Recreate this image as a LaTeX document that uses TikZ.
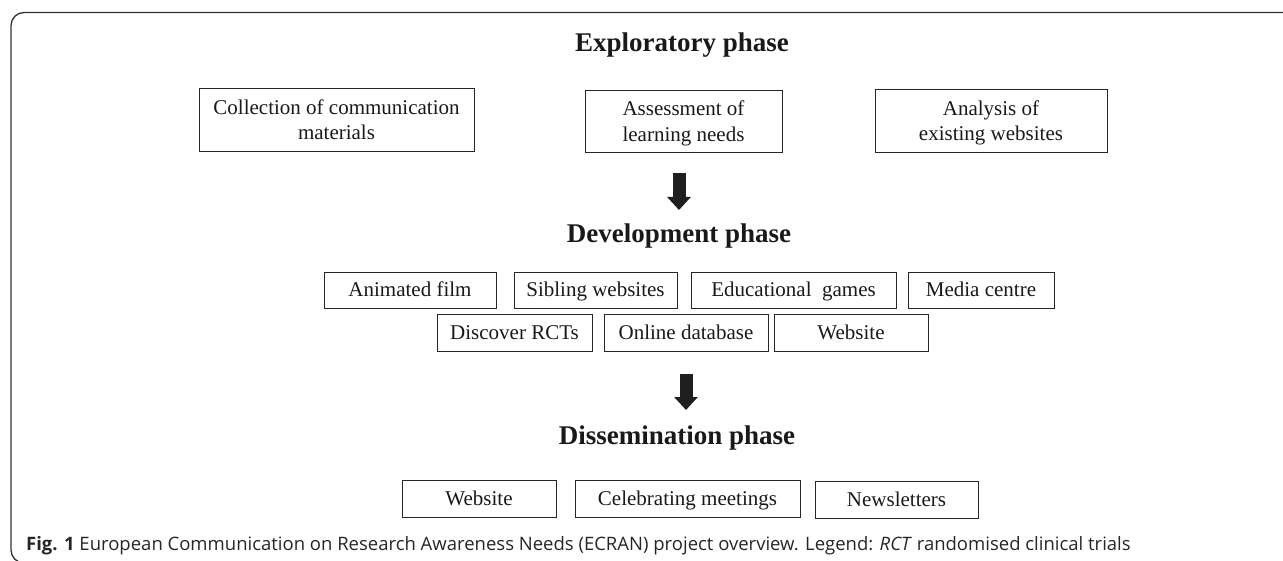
\documentclass[tikz,border=0pt]{standalone}
\usepackage{fontspec}
\setmainfont{Liberation Serif}
\newfontfamily\capfont{Open Sans}
\usetikzlibrary{arrows.meta}
\begin{document}
\begin{tikzpicture}[x=1pt,y=-1pt,
  bx/.style={draw=black!85, line width=0.9pt, inner sep=0pt, text=black!90,
    font=\fontsize{21}{25.5}\selectfont, align=center},
  one/.style={bx, text height=14pt, text depth=0.6pt},
  two/.style={bx, text depth=0pt},
  ttl/.style={anchor=base, text=black!90, font=\fontsize{27}{32}\selectfont\bfseries},
  bigarrow/.style={line width=13pt, draw=black!88, -{Triangle[width=23pt,length=13pt]}}]
\useasboundingbox (0,0) rectangle (1283,561);
\clip (0,0) rectangle (1283,561);
% frame
\draw[line width=1.3pt, black!80, rounded corners=13pt] (11,12.5) rectangle (1300,563);
% titles
\node[ttl] (t1) at (682,52) {Exploratory phase};
\node[ttl] (t2) at (679,243) {Development phase};
\node[ttl] (t3) at (677,444) {Dissemination phase};
% exploratory boxes
\node[two, minimum width=275pt, minimum height=63pt] (b1) at (336.5,119.5) {Collection of communication\\materials};
\node[two, minimum width=197pt, minimum height=62pt] (b2) at (683.5,121) {Assessment of\\learning needs};
\node[two, minimum width=232pt, minimum height=63pt] (b3) at (991,120.5) {Analysis of\\existing websites};
% development boxes
\node[one, minimum width=172pt, minimum height=36pt] (d1) at (410,290) {Animated film};
\node[one, minimum width=163pt, minimum height=36pt] (d2) at (595.5,290) {Sibling websites};
\node[one, minimum width=205pt, minimum height=36pt] (d3) at (793.5,290) {Educational\ \ games};
\node[one, minimum width=146pt, minimum height=36pt] (d4) at (981,290) {Media centre};
\node[one, minimum width=155pt, minimum height=37pt] (d5) at (514.5,332.5) {Discover RCTs};
\node[one, minimum width=164pt, minimum height=37pt] (d6) at (686,332.5) {Online database};
\node[one, minimum width=154pt, minimum height=37pt] (d7) at (851,332.5) {Website};
% dissemination boxes
\node[one, minimum width=154pt, minimum height=37pt] (s1) at (479,498.5) {Website};
\node[one, minimum width=225pt, minimum height=37pt] (s2) at (687.5,498.5) {Celebrating meetings};
\node[one, minimum width=163pt, minimum height=37pt] (s3) at (896.5,499.5) {Newsletters};
% arrows
\coordinate (a1s) at (679,173);
\coordinate (a1e) at (679,210);
\coordinate (a2s) at (686,374);
\coordinate (a2e) at (686,410);
\draw[bigarrow] (a1s) -- (a1e);
\draw[bigarrow] (a2s) -- (a2e);
% caption
\node[anchor=base west, inner sep=0pt, text=black!85, font=\capfont\fontsize{18.5}{21}\selectfont] (cap) at (26,550)
  {\textbf{Fig. 1} European Communication on Research Awareness Needs (ECRAN) project overview. Legend: \textit{RCT} randomised clinical trials};
\end{tikzpicture}
\end{document}
